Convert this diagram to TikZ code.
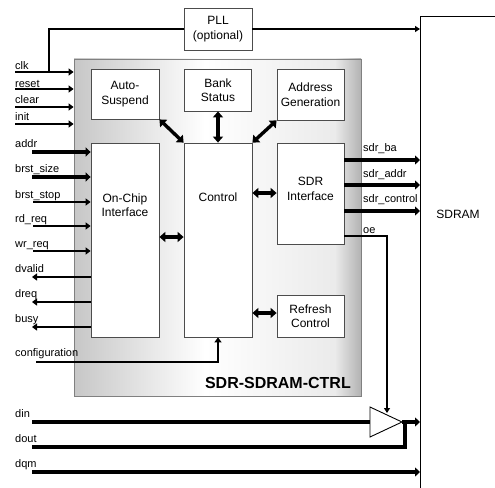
\documentclass[tikz,border=0pt]{standalone}
\usepackage{fontspec}
\setmainfont{Liberation Sans}
\usetikzlibrary{arrows.meta,shapes.geometric}
\tikzset{
  blk/.style={draw=black!70, fill=white, line width=0.8pt, inner sep=0pt, align=center, font=\fontsize{12}{14.5}\selectfont},
  btxt/.style={align=center, inner sep=0pt, font=\fontsize{12}{14.5}\selectfont},
  lbl/.style={anchor=base west, inner sep=0pt, font=\fontsize{11}{13}\selectfont},
  thinw/.style={line width=1.1pt},
  sig/.style={line width=1.8pt, -{Triangle[length=5pt,width=7pt]}},
  bus/.style={line width=3.8pt, -{Triangle[length=5pt,width=9pt]}},
  busn/.style={line width=3.8pt},
  dbl/.style={line width=3.4pt, {Triangle[length=6pt,width=10pt]}-{Triangle[length=6pt,width=10pt]}},
}
\begin{document}
\begin{tikzpicture}[x=1pt,y=-1pt]
\useasboundingbox (0,0) rectangle (495,487);
% main controller box: background gradient
\shade[left color=black!22, right color=white] (74,59) rectangle (205,396);
\shade[left color=white, right color=black!8] (205,59) rectangle (335,396);
\shade[left color=black!8, right color=black!30] (335,59) rectangle (361,396);
\node[minimum width=287, minimum height=337, inner sep=0pt, draw=black!50, line width=0.8pt] (chip) at (217.5,227.5) {};
% SDRAM
\node[draw, line width=1.1pt, minimum width=100, minimum height=490, inner sep=0pt, anchor=north west] (sdram) at (420,16) {};
\node[btxt] (sdramtxt) at (458,214) {SDRAM};
% PLL
\node[blk, minimum width=68, minimum height=42] (pll) at (218,29) {PLL\\(optional)};
% title
\node[anchor=base east, inner sep=0pt, font=\fontsize{16}{18}\bfseries\selectfont] (title) at (351,388) {SDR-SDRAM-CTRL};
% inner blocks
\node[blk, minimum width=68, minimum height=50] (auto) at (125,94) {Auto-\\Suspend};
\node[blk, minimum width=67, minimum height=42] (bank) at (218,90) {Bank\\Status};
\node[blk, minimum width=67, minimum height=51] (agen) at (310.5,94.5) {Address\\Generation};
\node[blk, minimum width=68, minimum height=194] (onchip) at (125,240) {};
\node[btxt] (onchiptxt) at (125,205) {On-Chip\\Interface};
\node[blk, minimum width=68, minimum height=194] (control) at (218,240) {};
\node[btxt] (controltxt) at (218,197) {Control};
\node[blk, minimum width=67, minimum height=101] (sdrif) at (310.5,193.5) {};
\node[btxt] (sdriftxt) at (310.5,189) {SDR\\Interface};
\node[blk, minimum width=67, minimum height=42] (refresh) at (310.5,316) {Refresh\\Control};
% internal arrows
\coordinate (r237) at (0,237);
\coordinate (r193) at (0,193);
\coordinate (r313) at (0,313);
\draw[dbl] (auto.south east) -- (control.north west);
\draw[dbl] (bank.south) -- (control.north);
\draw[dbl] (agen.south west) -- (control.north east);
\draw[dbl] (onchip.east |- r237) -- (control.west |- r237);
\draw[dbl] (control.east |- r193) -- (sdrif.west |- r193);
\draw[dbl] (control.east |- r313) -- (refresh.west |- r313);
% PLL connections
\coordinate (clkJ) at (49,72);
\draw[thinw] (pll.west) -| (clkJ);
\draw[thinw, -{Triangle[length=5pt,width=6pt]}] (pll.east) -- (pll.east -| sdram.west);
% left control inputs
\coordinate (clkL) at (15,72);
\coordinate (resetL) at (15,89);
\coordinate (clearL) at (15,107);
\coordinate (initL) at (15,124);
\draw[sig] (clkL) -- (clkL -| chip.west);
\draw[sig] (resetL) -- (resetL -| chip.west);
\draw[sig] (clearL) -- (clearL -| chip.west);
\draw[sig] (initL) -- (initL -| chip.west);
% on-chip interface signals
\coordinate (addrL) at (32,152);
\coordinate (bsizeL) at (32,177);
\coordinate (bstopL) at (33,202);
\coordinate (rdL) at (33,226);
\coordinate (wrL) at (33,251);
\coordinate (dvalidL) at (32,277);
\coordinate (dreqL) at (32,302);
\coordinate (busyL) at (32,327);
\draw[bus] (addrL) -- (addrL -| onchip.west);
\draw[bus] (bsizeL) -- (bsizeL -| onchip.west);
\draw[sig] (bstopL) -- (bstopL -| onchip.west);
\draw[sig] (rdL) -- (rdL -| onchip.west);
\draw[sig] (wrL) -- (wrL -| onchip.west);
\draw[sig] (dvalidL -| onchip.west) -- (dvalidL);
\draw[sig] (dreqL -| onchip.west) -- (dreqL);
\draw[sig] (busyL -| onchip.west) -- (busyL);
% configuration
\coordinate (cfgL) at (36,362);
\draw[line width=1.6pt, -{Triangle[length=5pt,width=7pt]}] (cfgL) -| (control.south);
% SDR outputs
\coordinate (baR) at (420,160);
\coordinate (saR) at (420,185);
\coordinate (scR) at (420,211);
\draw[bus] (baR -| sdrif.east) -- (baR);
\draw[bus] (saR -| sdrif.east) -- (saR);
\draw[bus] (scR -| sdrif.east) -- (scR);
% buffer
\node[draw, line width=0.9pt, fill=white, isosceles triangle, isosceles triangle stretches,
      minimum width=30, minimum height=32, inner sep=0pt, outer sep=0pt, anchor=apex] (buf) at (402,422) {};
\coordinate (oeK) at (387,236);
\coordinate (oeT) at (387,413);
\draw[thinw, -{Triangle[length=5pt,width=6pt]}] (oeK -| sdrif.east) -- (oeK) -- (oeT);
% data lines
\coordinate (dinL) at (32,422);
\coordinate (doutL) at (32,447);
\coordinate (doutJ) at (405,447);
\coordinate (dqmL) at (32,472);
\draw[busn] (dinL) -- (buf.lower side);
\draw[bus] (buf.apex) -- (buf.apex -| sdram.west);
\draw[busn] (doutL) -- (doutJ) -- (doutJ |- buf.apex);
\draw[bus] (dqmL) -- (dqmL -| sdram.west);
% labels
\node[lbl] (tclk) at (15,70) {clk};
\node[lbl] (treset) at (15,87) {reset};
\node[lbl] (tclear) at (15,103.5) {clear};
\node[lbl] (tinit) at (15,120) {init};
\node[lbl] (taddr) at (15,147) {addr};
\node[lbl] (tbsize) at (15,172) {brst\_size};
\node[lbl] (tbstop) at (15,198) {brst\_stop};
\node[lbl] (trd) at (15,222) {rd\_req};
\node[lbl] (twr) at (15,247) {wr\_req};
\node[lbl] (tdvalid) at (15,272) {dvalid};
\node[lbl] (tdreq) at (15,297) {dreq};
\node[lbl] (tbusy) at (15,322) {busy};
\node[lbl] (tcfg) at (15,356) {configuration};
\node[lbl] (tdin) at (15,417) {din};
\node[lbl] (tdout) at (15,442) {dout};
\node[lbl] (tdqm) at (15,467) {dqm};
\node[lbl] (tba) at (363,151) {sdr\_ba};
\node[lbl] (tsa) at (363,177) {sdr\_addr};
\node[lbl] (tsc) at (363,202) {sdr\_control};
\node[lbl] (toe) at (363,233) {oe};
\end{tikzpicture}
\end{document}
